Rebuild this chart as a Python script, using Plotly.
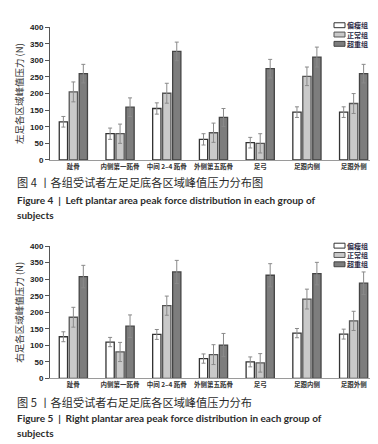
import plotly.graph_objects as go

W, H = 378, 444

categories = ["趾骨", "内侧第一跖骨", "中间 2–4 跖骨", "外侧第五跖骨", "足弓", "足跟内侧", "足跟外侧"]
groups = ["偏瘦组", "正常组", "超重组"]
y_ticks = [0, 50, 100, 150, 200, 250, 300, 350, 400]

left_thin = [115, 79, 155, 62, 52, 144, 144]
left_thin_err = [16, 17, 17, 17, 16, 16, 16]
left_normal = [205, 79, 201, 82, 50, 252, 170]
left_normal_err = [30, 29, 30, 29, 29, 28, 30]
left_over = [260, 159, 327, 128, 275, 310, 260]
left_over_err = [28, 28, 28, 27, 28, 30, 28]

right_thin = [126, 110, 133, 60, 50, 137, 134]
right_thin_err = [15, 14, 15, 14, 15, 14, 15]
right_normal = [185, 80, 220, 72, 47, 240, 174]
right_normal_err = [30, 29, 29, 30, 28, 30, 29]
right_over = [308, 158, 322, 101, 312, 317, 288]
right_over_err = [34, 34, 35, 35, 35, 34, 34]

fills = ["#ffffff", "#c9c9c9", "#7d7d7d"]
edges = ["#333333", "#555555", "#444444"]

CJK = "Noto Sans CJK SC"


def px(x):
    return x / W


def py(y):
    return 1 - y / H


fig = go.Figure()

panels = [
    ("x", "y", [left_thin, left_normal, left_over], [left_thin_err, left_normal_err, left_over_err]),
    ("x2", "y2", [right_thin, right_normal, right_over], [right_thin_err, right_normal_err, right_over_err]),
]
for xa, ya, vals, errs in panels:
    for i, g in enumerate(groups):
        fig.add_trace(go.Bar(
            x=categories, y=vals[i], name=g, xaxis=xa, yaxis=ya, showlegend=False,
            marker=dict(color=fills[i], line=dict(color=edges[i], width=1.3)),
            error_y=dict(type="data", array=errs[i], color="#8a8a8a", thickness=1, width=2),
        ))

xcommon = dict(
    type="category", showline=True, linecolor="#9a9a9a", linewidth=1,
    ticks="", showgrid=False, zeroline=False,
    tickfont=dict(family=CJK, size=6.5, color="#333333", weight="bold"),
    domain=[px(42), px(369)],
)
ycommon = dict(
    range=[0, 400], tickvals=y_ticks, showline=True, linecolor="#555555", linewidth=1,
    ticks="outside", ticklen=4, tickcolor="#555555", showgrid=False, zeroline=False,
    tickfont=dict(family="Liberation Sans", size=8, color="#222222", weight="bold"),
    title=dict(standoff=4, font=dict(family=CJK, size=9.5, color="#333333")),
)

fig.update_layout(
    width=W, height=H, autosize=False,
    margin=dict(l=0, r=0, t=0, b=0),
    paper_bgcolor="white", plot_bgcolor="white",
    barmode="group", bargap=0.36, bargroupgap=0.17,
    xaxis=dict(xcommon, anchor="y"),
    xaxis2=dict(xcommon, anchor="y2"),
    yaxis=dict(ycommon, domain=[py(151), py(15.5)], anchor="x",
               title=dict(ycommon["title"], text="左足各区域峰值压力 (N)")),
    yaxis2=dict(ycommon, domain=[py(374), py(239)], anchor="x2",
                title=dict(ycommon["title"], text="右足各区域峰值压力 (N)")),
    showlegend=False,
)

shapes = []
annots = []
# right border line for top chart
shapes.append(dict(type="line", xref="paper", yref="paper", x0=px(369), x1=px(369),
                   y0=py(151), y1=py(13), line=dict(color="#b0b0b0", width=1)))

# manual legends
for rows in ([13.5, 23, 32.5], [238.5, 248, 257.5]):
    for i, g in enumerate(groups):
        yc = rows[i]
        shapes.append(dict(type="rect", xref="paper", yref="paper",
                           x0=px(326), x1=px(337), y0=py(yc + 2.5), y1=py(yc - 2.5),
                           fillcolor=fills[i], line=dict(color=edges[i], width=1)))
        annots.append(dict(xref="paper", yref="paper", x=px(338), y=py(yc), text=g,
                           showarrow=False, xanchor="left", yanchor="middle", borderpad=0,
                           font=dict(family=CJK, size=7, color="#2a2a45", weight="bold")))

captions = [
    (174, "图 4 丨各组受试者左足足底各区域峰值压力分布图", CJK, 11.2, "normal"),
    (192, "Figure 4  |  Left plantar area peak force distribution in each group of", "Lato", 10, "bold"),
    (207.5, "subjects", "Lato", 10, "bold"),
    (398, "图 5 丨各组受试者右足足底各区域峰值压力分布", CJK, 11.2, "normal"),
    (414, "Figure 5  |  Right plantar area peak force distribution in each group of", "Lato", 10, "bold"),
    (430, "subjects", "Lato", 10, "bold"),
]
for yc, t, fam, sz, wt in captions:
    annots.append(dict(xref="paper", yref="paper", x=px(7), y=py(yc), text=t,
                       showarrow=False, xanchor="left", yanchor="middle",
                       font=dict(family=fam, size=sz, color="#2b2b2b", weight=wt)))

fig.update_layout(shapes=shapes, annotations=annots)
fig.write_html("out.html")
